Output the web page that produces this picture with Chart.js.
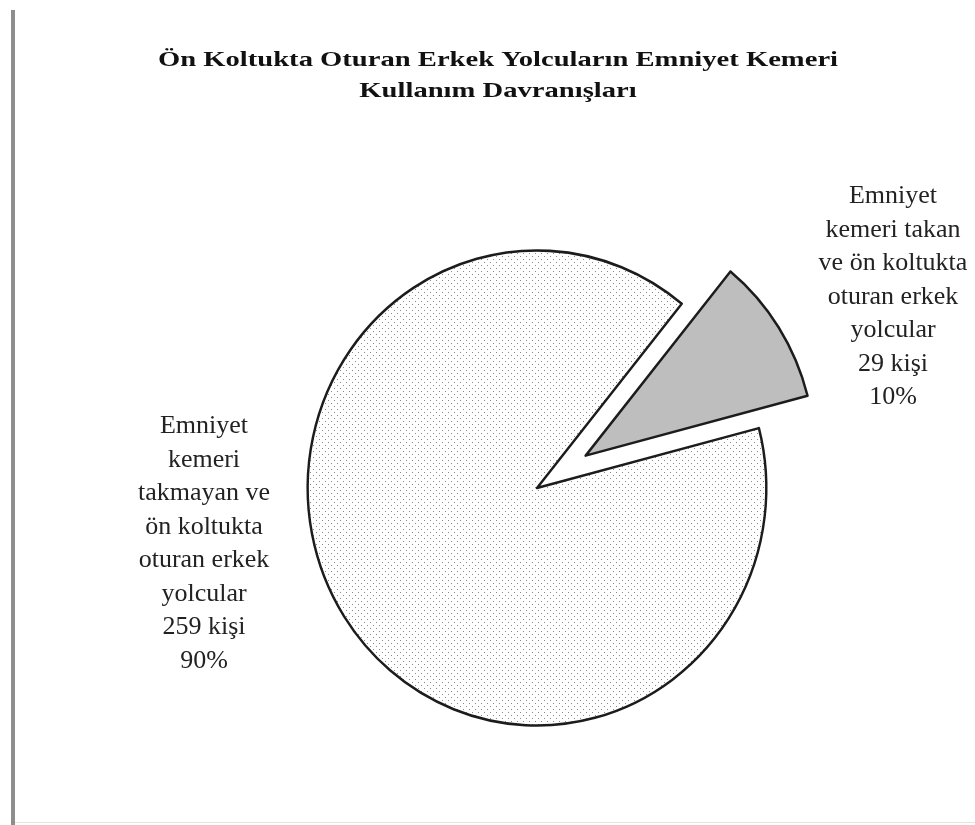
<!DOCTYPE html>
<html lang="tr">
<head>
<meta charset="utf-8">
<title>Emniyet Kemeri Kullanım Davranışları</title>
<script src="https://cdn.jsdelivr.net/npm/chart.js@4.4.1/dist/chart.umd.min.js"></script>
<style>
  html, body { margin: 0; padding: 0; background: #fff; }
  .wrap { position: relative; width: 975px; height: 825px; overflow: hidden; }
  .wrap canvas { position: absolute; left: 0; top: 0; }
  .frame-left { position: absolute; left: 11px; top: 10px; bottom: 0; border-left: 4px solid #8e8e8e; }
  .frame-bottom { position: absolute; left: 15px; right: 0; top: 822px; border-top: 1px solid #e3e3e3; }
</style>
</head>
<body>
<div class="wrap">
  <canvas id="beltChart" width="975" height="825"></canvas>
  <div class="frame-left"></div>
  <div class="frame-bottom"></div>
</div>
<script>
const titleLines = ['Ön Koltukta Oturan Erkek Yolcuların Emniyet Kemeri', 'Kullanım Davranışları'];
const groupNames = [
  'Emniyet kemeri takmayan ve ön koltukta oturan erkek yolcular',
  'Emniyet kemeri takan ve ön koltukta oturan erkek yolcular'
];
const groupLabelLines = [
  ['Emniyet', 'kemeri', 'takmayan ve', 'ön koltukta', 'oturan erkek', 'yolcular'],
  ['Emniyet', 'kemeri takan', 've ön koltukta', 'oturan erkek', 'yolcular']
];
const passengerCounts = [259, 29];

// pulled-out distance per slice, and label anchors (first baseline) from the pie centre
const SLICE_PULL = [0, 59];
const LABEL_OFFSETS = [{ x: -333, y: -55 }, { x: 356, y: -285 }];
// the pie sits a little taller than wide
const PIE_SCALE = { x: 0.98, y: 1.015 };
const TITLE_X = 498;
const SERIF = '"Liberation Serif", "Times New Roman", serif';

const dotPattern = () => {
  const tile = document.createElement('canvas');
  tile.width = 6;
  tile.height = 6;
  const t = tile.getContext('2d');
  t.fillStyle = '#fff';
  t.fillRect(0, 0, 6, 6);
  t.fillStyle = '#8a8a8a';
  t.fillRect(1, 1, 1, 1);
  t.fillRect(4, 4, 1, 1);
  return t.createPattern(tile, 'repeat');
};
const dots = dotPattern();

const pieCentre = (chart) => {
  const { chartArea } = chart;
  return {
    x: (chartArea.left + chartArea.right) / 2,
    y: (chartArea.top + chartArea.bottom) / 2
  };
};

const explodeSlices = {
  id: 'explodeSlices',
  beforeDatasetsDraw(chart) {
    const ctx = chart.ctx;
    const c = pieCentre(chart);
    chart.getDatasetMeta(0).data.forEach((arc, i) => {
      const pull = SLICE_PULL[i] || 0;
      const mid = (arc.startAngle + arc.endAngle) / 2;
      arc.x = c.x + Math.cos(mid) * pull;
      arc.y = c.y + Math.sin(mid) * pull;
    });
    ctx.save();
    ctx.translate(c.x, c.y);
    ctx.scale(PIE_SCALE.x, PIE_SCALE.y);
    ctx.translate(-c.x, -c.y);
    // keep the dots on whole pixels despite the squeeze
    dots.setTransform(ctx.getTransform().inverse());
  },
  afterDatasetsDraw(chart) {
    chart.ctx.restore();
  }
};

const textLayer = {
  id: 'textLayer',
  afterDraw(chart) {
    const ctx = chart.ctx;
    const c = pieCentre(chart);
    const total = passengerCounts.reduce((a, b) => a + b, 0);

    ctx.save();
    ctx.textAlign = 'center';
    ctx.textBaseline = 'alphabetic';

    // the title is set wide, as in the old worksheet chart
    ctx.fillStyle = '#111';
    ctx.font = 'bold 22px ' + SERIF;
    titleLines.forEach((line, i) => {
      ctx.save();
      ctx.translate(TITLE_X, 66 + i * 31);
      ctx.scale(1.3, 1);
      ctx.fillText(line, 0, 0);
      ctx.restore();
    });

    ctx.fillStyle = '#222';
    ctx.font = '26px ' + SERIF;
    groupLabelLines.forEach((lines, i) => {
      const pct = Math.round(passengerCounts[i] / total * 100);
      const rows = [...lines, passengerCounts[i] + ' kişi', pct + '%'];
      rows.forEach((row, j) => {
        ctx.fillText(row, c.x + LABEL_OFFSETS[i].x, c.y + LABEL_OFFSETS[i].y + j * 33.5);
      });
    });
    ctx.restore();
  }
};

new Chart(document.getElementById('beltChart'), {
  type: 'pie',
  data: {
    labels: groupNames,
    datasets: [{
      data: passengerCounts,
      backgroundColor: [dots, '#bebebe'],
      borderColor: '#1c1c1c',
      borderWidth: 2.5,
      borderJoinStyle: 'round'
    }]
  },
  options: {
    responsive: false,
    animation: false,
    events: [],
    rotation: 75.4,
    radius: 234,
    layout: { padding: { left: 99, right: 0, top: 151, bottom: 0 } },
    plugins: {
      legend: { display: false },
      title: { display: false },
      tooltip: { enabled: false }
    }
  },
  plugins: [explodeSlices, textLayer]
});
</script>
</body>
</html>
